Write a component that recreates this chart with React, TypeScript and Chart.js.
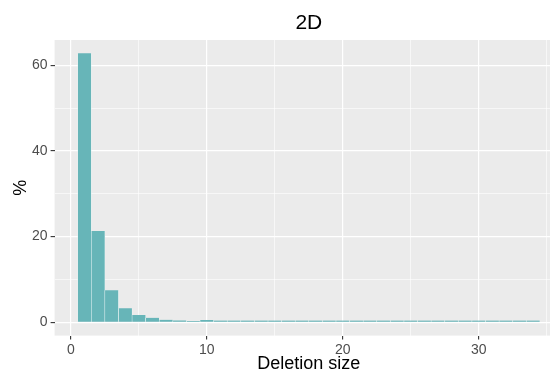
import React, { useEffect, useRef } from "react";
import { Chart, registerables } from "chart.js";

Chart.register(...registerables);

const titleText = "2D";
const xTitle = "Deletion size";
const yTitle = "%";
const deletionSizes = [1, 2, 3, 4, 5, 6, 7, 8, 9, 10, 11, 12, 13, 14, 15, 16, 17, 18, 19, 20, 21, 22, 23, 24, 25, 26, 27, 28, 29, 30, 31, 32, 33, 34];
const percents = [62.8, 21.3, 7.5, 3.3, 1.7, 1.05, 0.6, 0.45, 0.3, 0.55, 0.4, 0.4, 0.4, 0.4, 0.4, 0.4, 0.4, 0.4, 0.4, 0.4, 0.4, 0.4, 0.4, 0.4, 0.4, 0.4, 0.4, 0.4, 0.4, 0.4, 0.4, 0.4, 0.4, 0.4];
const xTicks = [0, 5, 10, 15, 20, 25, 30, 35];
const xLabelTicks = [0, 10, 20, 30];
const yTicks = [0, 10, 20, 30, 40, 50, 60];
const yLabelTicks = [0, 20, 40, 60];
const xRange = [-1.2, 36.2];
const yRange = [-3.1, 65.9];

const FONT = "'Liberation Sans', Arial, Helvetica, sans-serif";

export default function App() {
  const ref = useRef<HTMLCanvasElement | null>(null);

  useEffect(() => {
    if (!ref.current) return;
    const bgPlugin = {
      id: "panelBg",
      beforeDraw(chart: any) {
        const { ctx, chartArea } = chart;
        ctx.save();
        ctx.fillStyle = "#EBEBEB";
        ctx.fillRect(chartArea.left, chartArea.top, chartArea.right - chartArea.left, chartArea.bottom - chartArea.top);
        ctx.restore();
      },
      afterDraw(chart: any) {
        const { ctx, chartArea } = chart;
        ctx.save();
        ctx.fillStyle = "#000000";
        ctx.font = `21px ${FONT}`;
        ctx.textAlign = "center";
        ctx.textBaseline = "middle";
        ctx.fillText(titleText, (chartArea.left + chartArea.right) / 2, 23);
        ctx.restore();
      },
    };

    const isMajorX = (v: number) => xLabelTicks.includes(v);
    const isMajorY = (v: number) => yLabelTicks.includes(v);

    const chart = new Chart(ref.current, {
      type: "bar",
      data: {
        datasets: [
          {
            data: deletionSizes.map((x, i) => ({ x, y: percents[i] })),
            backgroundColor: "#67B5B8",
            borderColor: "#FFFFFF",
            borderWidth: { left: 0.5, right: 0.5, top: 0, bottom: 0 },
            borderSkipped: false,
            barPercentage: 1,
            categoryPercentage: 1,
          } as any,
        ],
      },
      options: {
        responsive: false,
        animation: false,
        events: [],
        layout: { padding: { top: 40, left: 0, right: 0, bottom: 0 } },
        plugins: { legend: { display: false }, tooltip: { enabled: false }, title: { display: false } },
        scales: {
          x: {
            type: "linear",
            offset: false,
            min: xRange[0],
            max: xRange[1],
            afterBuildTicks: (s: any) => {
              s.ticks = xTicks.map((v) => ({ value: v }));
            },
            afterFit: (s: any) => {
              s.height = 38.4;
            },
            border: { display: false },
            grid: {
              offset: false,
              color: "#FFFFFF",
              lineWidth: (c: any) => (isMajorX(c.tick?.value) ? 1.2 : 0.6),
              drawTicks: true,
              tickLength: 4,
              tickColor: (c: any) => (isMajorX(c.tick?.value) ? "#333333" : "rgba(0,0,0,0)"),
              tickWidth: 1.1,
            },
            ticks: {
              autoSkip: false,
              maxRotation: 0,
              padding: 2,
              color: "#4D4D4D",
              font: { family: FONT, size: 14 },
              callback: (v: any) => (isMajorX(Number(v)) ? String(v) : ""),
            },
            title: {
              display: true,
              text: xTitle,
              color: "#000000",
              font: { family: FONT, size: 18, lineHeight: 1 },
              padding: { top: 0, bottom: 1 },
            },
          },
          y: {
            type: "linear",
            min: yRange[0],
            max: yRange[1],
            afterBuildTicks: (s: any) => {
              s.ticks = yTicks.map((v) => ({ value: v }));
            },
            afterFit: (s: any) => {
              s.width = 54.6;
            },
            border: { display: false },
            grid: {
              color: "#FFFFFF",
              lineWidth: (c: any) => (isMajorY(c.tick?.value) ? 1.2 : 0.6),
              drawTicks: true,
              tickLength: 4,
              tickColor: (c: any) => (isMajorY(c.tick?.value) ? "#333333" : "rgba(0,0,0,0)"),
              tickWidth: 1.1,
            },
            ticks: {
              autoSkip: false,
              padding: 3,
              color: "#4D4D4D",
              font: { family: FONT, size: 14 },
              callback: (v: any) => (isMajorY(Number(v)) ? String(v) : ""),
            },
            title: {
              display: true,
              text: yTitle,
              color: "#000000",
              font: { family: FONT, size: 18, lineHeight: 1 },
              padding: { top: 12, bottom: 0 },
            },
          },
        },
      } as any,
      plugins: [bgPlugin],
    });
    return () => chart.destroy();
  }, []);

  return (
    <div style={{ position: "fixed", left: 0, top: 0, width: 550, height: 374, overflow: "hidden", background: "#FFFFFF" }}>
      <canvas ref={ref} width={563} height={374} style={{ display: "block", width: 563, height: 374 }} />
    </div>
  );
}
